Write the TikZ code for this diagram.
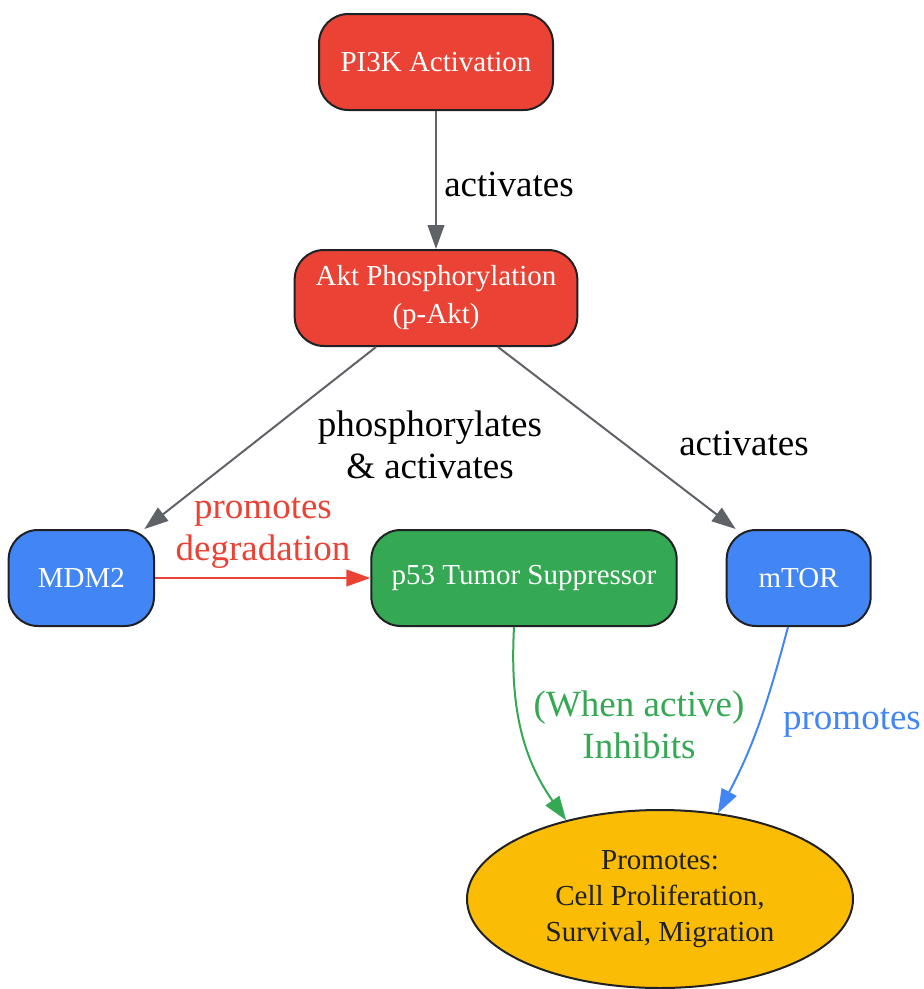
\documentclass[tikz,border=0pt]{standalone}
\usepackage{fontspec}
\setmainfont{Liberation Serif}
\usetikzlibrary{positioning,arrows.meta,shapes.geometric}
\definecolor{gred}{HTML}{EA4335}
\definecolor{gblue}{HTML}{4285F4}
\definecolor{ggreen}{HTML}{34A853}
\definecolor{gyellow}{HTML}{FBBC05}
\definecolor{ggray}{HTML}{5F6368}
\definecolor{gdark}{HTML}{202124}
\begin{document}
\begin{tikzpicture}[x=0.75pt,y=-0.75pt,
  box/.style={draw=gdark,line width=1.5pt,rounded corners=22pt,minimum height=72pt,
    align=center,text=white,font=\fontsize{21.75}{28.5}\selectfont},
  redbox/.style={box,fill=gred},
  bluebox/.style={box,fill=gblue},
  greenbox/.style={box,fill=ggreen},
  outcome/.style={ellipse,draw=gdark,line width=1.5pt,fill=gyellow,inner sep=0pt,
    minimum width=289.5pt,minimum height=133.5pt,align=center,text=gdark,
    font=\fontsize{21.75}{27}\selectfont},
  lbl/.style={align=center,font=\fontsize{27.75}{32}\selectfont},
  link/.style={line width=1.5pt,-{Triangle[length=18pt,width=12.5pt]}}]
\useasboundingbox (0,0) rectangle (924,989);

\node[redbox,minimum width=175.5pt] (pi3k) at (436,62) {PI3K Activation};
\node[redbox,below=103.5pt of pi3k,minimum width=212pt] (akt) {Akt Phosphorylation\\(p-Akt)};
\node[greenbox,below=136.5pt of akt,xshift=66pt,minimum width=229pt] (p53) {p53 Tumor Suppressor};
\node[bluebox,left=161.5pt of p53,minimum width=109pt] (mdm2) {MDM2};
\node[bluebox,right=36pt of p53,minimum width=108pt] (mtor) {mTOR};
\node[outcome,below=136.5pt of p53,xshift=102pt] (cells) {Promotes:\\Cell Proliferation,\\Survival, Migration};

\draw[link,ggray] (pi3k) -- (akt);
\draw[link,ggray] ([xshift=-45pt]akt.south) -- ([xshift=-8pt]mdm2.north east);
\draw[link,ggray] ([xshift=46.5pt]akt.south) -- ([xshift=7.5pt]mtor.north west);
\draw[link,gred] (mdm2) -- (p53);
\draw[link,ggreen] ([xshift=-7.5pt]p53.south) to[out=-93,in=125] (cells.140);
\draw[link,gblue] ([xshift=-8pt]mtor.south) to[out=-105,in=62] (cells.56);

\node[lbl] (lblact1) at (509,184) {activates};
\node[lbl] (lblphos) at (430,445) {phosphorylates\\\& activates};
\node[lbl] (lblact2) at (744,443) {activates};
\node[lbl,gred] (lbldeg) at (263,533) {promotes\\degradation};
\node[lbl,ggreen] (lblinh) at (639,725) {(When active)\\Inhibits};
\node[lbl,gblue] (lblprom) at (852,723) {promotes};
\end{tikzpicture}
\end{document}
